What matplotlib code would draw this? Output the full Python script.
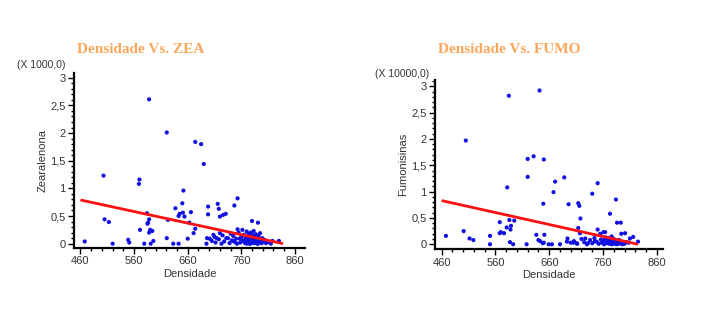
import numpy as np
import matplotlib
matplotlib.use('Agg')
import matplotlib.pyplot as plt
from matplotlib.ticker import FuncFormatter, MultipleLocator

# ZEA (x 1000) vs densidade
zea_dens = [468, 503, 505, 513, 520, 549, 551, 569, 570, 571, 579, 584, 585, 586, 588, 588, 588,
            590, 591, 594, 596, 621, 621, 623, 633, 637, 643, 643, 645, 650, 652, 651, 654, 660,
            663, 666, 671, 674, 674, 685, 690, 695, 696, 698, 698, 701, 708, 714, 716, 718, 720,
            723, 726, 731, 720, 732, 747, 753, 753, 752, 780, 791, 818, 830, 815,
            705, 710, 712, 718, 725, 728, 735, 738, 740, 742, 745, 748, 750, 755, 758, 760, 762,
            764, 765, 767, 768, 770, 771, 772, 773, 774, 775, 776, 777, 778, 779, 780, 781, 782,
            783, 784, 785, 786, 787, 788, 789, 790, 792, 793, 795, 797, 799, 800, 803, 806, 810,
            770, 774, 778, 782, 786, 762, 766, 790, 757, 744,
            768, 771, 775, 779, 783, 787, 791, 794, 798, 773, 777, 781, 785]
zea_val = [0.04, 1.23, 0.44, 0.39, 0.00, 0.07, 0.02, 1.08, 1.16, 0.25, 0.00, 0.55, 0.36, 0.38, 0.44,
           2.61, 0.20, 0.25, 0.00, 0.23, 0.05, 2.01, 0.10, 0.43, 0.00, 0.64, 0.50, 0.00, 0.54, 0.73,
           0.96, 0.56, 0.49, 0.09, 0.38, 0.57, 0.19, 1.84, 0.27, 1.80, 1.44, 0.00, 0.10, 0.53, 0.67,
           0.09, 0.16, 0.10, 0.72, 0.63, 0.49, 0.00, 0.52, 0.54, 0.19, 0.10, 0.69, 0.82, 0.26, 0.00,
           0.41, 0.38, 0.05, 0.05, 0.00,
           0.05, 0.12, 0.02, 0.08, 0.15, 0.04, 0.10, 0.01, 0.18, 0.06, 0.14, 0.03, 0.09, 0.20, 0.02,
           0.12, 0.25, 0.05, 0.16, 0.01, 0.10, 0.22, 0.03, 0.13, 0.07, 0.18, 0.00, 0.11, 0.04, 0.20,
           0.08, 0.02, 0.15, 0.06, 0.23, 0.01, 0.12, 0.05, 0.17, 0.03, 0.09, 0.00, 0.14, 0.06, 0.19,
           0.02, 0.10, 0.04, 0.07, 0.01, 0.03, 0.00, 0.05, 0.08, 0.02, 0.04, 0.06, 0.03, 0.01, 0.09,
           0.05,
           0.02, 0.04, 0.01, 0.03, 0.05, 0.02, 0.00, 0.03, 0.01, 0.06, 0.00, 0.04, 0.02]
zea_fit_x = [460, 838]
zea_fit_y = [0.79, 0.0]

# Fumonisinas (x 10000) vs densidade
fumo_dens = [468, 501, 505, 512, 519, 550, 550, 568, 568, 570, 576, 581, 582, 585, 586, 587, 588,
             589, 593, 595, 618, 620, 620, 631, 636, 640, 642, 643, 648, 649, 650, 651, 650, 659,
             665, 668, 671, 680, 688, 693, 694, 696, 705, 711, 714, 716, 714, 717, 718, 727, 732,
             740, 750, 750, 755, 761, 764, 773, 784, 786, 793, 794, 801, 810, 825, 816,
             700, 706, 712, 720, 725, 730, 736, 740, 744, 748, 752, 756, 758, 760, 762, 764, 766,
             768, 770, 771, 772, 773, 774, 775, 776, 777, 778, 779, 780, 781, 782, 783, 784, 785,
             786, 787, 788, 790, 792, 794, 796, 798, 800, 804, 808, 770, 776, 780, 765, 790, 745]
fumo_val = [0.16, 0.25, 1.97, 0.11, 0.08, 0.16, 0.00, 0.42, 0.21, 0.23, 0.21, 0.32, 1.08, 2.82, 0.46,
            0.04, 0.28, 0.35, 0.00, 0.45, 0.00, 1.62, 1.28, 1.67, 0.18, 0.08, 2.92, 0.06, 0.02, 0.77,
            1.61, 0.18, 0.03, 0.00, 0.00, 0.99, 1.19, 0.00, 1.27, 0.05, 0.11, 0.76, 0.03, 0.02, 0.78,
            0.73, 0.31, 0.21, 0.49, 0.11, 0.02, 0.96, 1.16, 0.28, 0.20, 0.23, 0.23, 0.58, 0.85, 0.41,
            0.41, 0.20, 0.21, 0.11, 0.05, 0.14,
            0.03, 0.06, 0.01, 0.10, 0.04, 0.00, 0.08, 0.02, 0.12, 0.05, 0.01, 0.09, 0.03, 0.07, 0.00,
            0.11, 0.04, 0.02, 0.08, 0.06, 0.01, 0.10, 0.03, 0.05, 0.00, 0.09, 0.02, 0.07, 0.04, 0.01,
            0.06, 0.03, 0.08, 0.00, 0.05, 0.02, 0.04, 0.01, 0.06, 0.03, 0.00, 0.02, 0.01, 0.04, 0.03,
            0.12, 0.15, 0.10, 0.13, 0.08, 0.06]
fumo_fit_x = [460, 825]
fumo_fit_y = [0.83, 0.0]

x_ticks = [460, 560, 660, 760, 860]
y_ticks = [0, 0.5, 1, 1.5, 2, 2.5, 3]

title_color = '#FBA65A'
text_color = '#333333'


def comma_fmt(v, pos):
    s = ('%.1f' % v).rstrip('0').rstrip('.')
    return s.replace('.', ',')


def draw(ax, xs, ys, fx, fy, title, ylabel, scale_txt, xlim, ylim, title_x, scale_xy):
    ax.scatter(xs, ys, s=9, color='#1010E0', edgecolors='none', zorder=2)
    ax.plot(fx, fy, color='#FF1010', lw=2, zorder=3, solid_capstyle='butt')
    ax.set_xlim(*xlim)
    ax.set_ylim(*ylim)
    for side in ['top', 'right']:
        ax.spines[side].set_visible(False)
    for side in ['left', 'bottom']:
        ax.spines[side].set_linewidth(1.6)
    ax.set_xticks(x_ticks)
    ax.set_yticks(y_ticks)
    ax.xaxis.set_minor_locator(MultipleLocator(20))
    ax.yaxis.set_minor_locator(MultipleLocator(0.1))
    ax.yaxis.set_major_formatter(FuncFormatter(comma_fmt))
    ax.tick_params(which='major', length=4, width=1, labelsize=8, pad=2, labelcolor=text_color)
    ax.tick_params(which='minor', length=2, width=1)
    ax.set_xlabel('Densidade', fontsize=8, labelpad=2, color=text_color)
    ax.set_ylabel(ylabel, fontsize=8, labelpad=2, color=text_color)
    fig.text(title_x, 0.848, title, ha='center', va='center', fontsize=11,
             fontweight='bold', family='Liberation Serif', color=title_color)
    fig.text(scale_xy[0], scale_xy[1], scale_txt, ha='left', va='center', fontsize=7.5,
             color=text_color)


fig = plt.figure(figsize=(7.2, 3.24), dpi=100)
plt.rcParams['font.family'] = ['Liberation Sans', 'DejaVu Sans']

ax1 = fig.add_axes([0.1028, 0.2346, 0.321, 0.540])
draw(ax1, zea_dens, zea_val, zea_fit_x, zea_fit_y, 'Densidade Vs. ZEA', 'Zearalenona',
     '(X 1000,0)', (448, 879), (-0.078, 3.085), 0.195, (0.024, 0.80))

ax2 = fig.add_axes([0.604, 0.2306, 0.317, 0.5225])
draw(ax2, fumo_dens, fumo_val, fumo_fit_x, fumo_fit_y, 'Densidade Vs. FUMO', 'Fumonisinas',
     '(X 10000,0)', (447.5, 871.7), (-0.095, 3.119), 0.707, (0.521, 0.772))

fig.savefig('out.png', dpi=100)
